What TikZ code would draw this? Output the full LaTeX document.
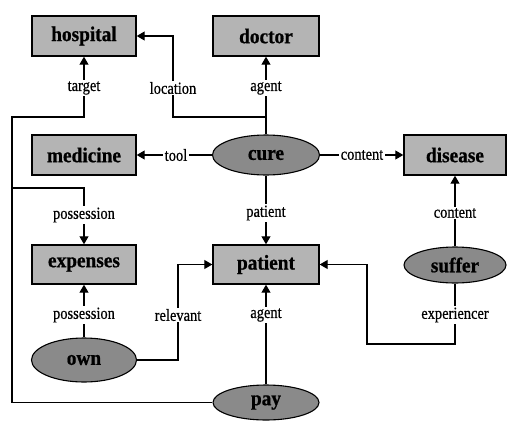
\documentclass[tikz,border=0pt]{standalone}
\usepackage{fontspec}
\setmainfont{Liberation Serif}
\newfontfamily\lblfont[FakeStretch=0.85,FakeBold=0.6]{Liberation Serif}
\newfontfamily\boxfont[FakeStretch=0.92,FakeBold=0.8]{Liberation Serif Bold}
\usetikzlibrary{arrows.meta,shapes.geometric}
\definecolor{boxgray}{HTML}{B4B4B4}
\definecolor{ellgray}{HTML}{8A8A8A}
\begin{document}
\begin{tikzpicture}[x=1pt,y=-1pt,
  concept/.style={draw=black,line width=1.4pt,fill=boxgray,rectangle,minimum width=104pt,minimum height=40pt,inner sep=0pt,font=\boxfont\fontsize{21}{21}\selectfont},
  relation/.style={draw=black,line width=1.1pt,fill=ellgray,ellipse,inner sep=0pt,font=\boxfont\fontsize{21}{21}\selectfont},
  lbl/.style={fill=white,inner sep=1.5pt,font=\lblfont\fontsize{17}{17}\selectfont},
  conn/.style={line width=1.1pt,-{Triangle[length=8pt,width=9pt]}},
  line/.style={line width=1.1pt}]
\useasboundingbox (0,0) rectangle (507,421);
% concepts
\node[concept] (hospital) at (84,36) {hospital};
\node[concept,minimum width=106pt] (doctor) at (266,36) {doctor};
\node[concept] (medicine) at (84,155) {medicine};
\node[concept,minimum width=102pt] (disease) at (455,155) {disease};
\node[concept,minimum height=39pt] (expenses) at (84,264.5) {expenses};
\node[concept,minimum width=106pt,minimum height=39pt] (patient) at (266,264.5) {patient};
% relations
\node[relation,minimum width=107pt,minimum height=40pt] (cure) at (266,155) {cure};
\node[relation,minimum width=102pt,minimum height=36pt] (suffer) at (455,265) {suffer};
\node[relation,minimum width=105pt,minimum height=44pt] (own) at (84,360) {own};
\node[relation,minimum width=106pt,minimum height=35pt] (pay) at (266,402.5) {pay};
% junction coordinates
\coordinate (tcorner) at (12,117);
\coordinate (pjoin) at (12,188);
\coordinate (ljoin) at (266,117);
\coordinate (lcorner) at (173,36);
\coordinate (rcorner) at (178,264.5);
\coordinate (ecorner) at (455,344);
\coordinate (ecorner2) at (367,264.5);
% connectors
\draw[conn] (pay.west) -| (tcorner) -| (hospital.south);
\node[lbl] (ltarget) at (84,88) {target};
\draw[conn] (pjoin) -| (expenses.north);
\node[lbl] (lposs1) at (84,215) {possession};
\draw[conn] (ljoin) -| (lcorner) -- (hospital.east);
\node[lbl] (lloc) at (173,88) {location};
\draw[conn] (cure.north) -- (doctor.south);
\node[lbl] (lagent1) at (266,88) {agent};
\draw[conn] (cure.west) -- (medicine.east);
\node[lbl] (ltool) at (176,155) {tool};
\draw[conn] (cure.east) -- (disease.west);
\node[lbl] (lcontent1) at (362,155) {content};
\draw[conn] (cure.south) -- (patient.north);
\node[lbl] (lpatient) at (266,213) {patient};
\draw[conn] (suffer.north) -- (disease.south);
\node[lbl] (lcontent2) at (455,213) {content};
\draw[conn] (own.north) -- (expenses.south);
\node[lbl] (lposs2) at (84,315) {possession};
\draw[conn] (own.east) -| (rcorner) -- (patient.west);
\node[lbl] (lrel) at (178,315) {relevant};
\draw[conn] (pay.north) -- (patient.south);
\node[lbl] (lagent2) at (266,315) {agent};
\draw[conn] (suffer.south) -- (ecorner) -| (ecorner2) -- (patient.east);
\node[lbl] (lexp) at (455,315) {experiencer};
\end{tikzpicture}
\end{document}
